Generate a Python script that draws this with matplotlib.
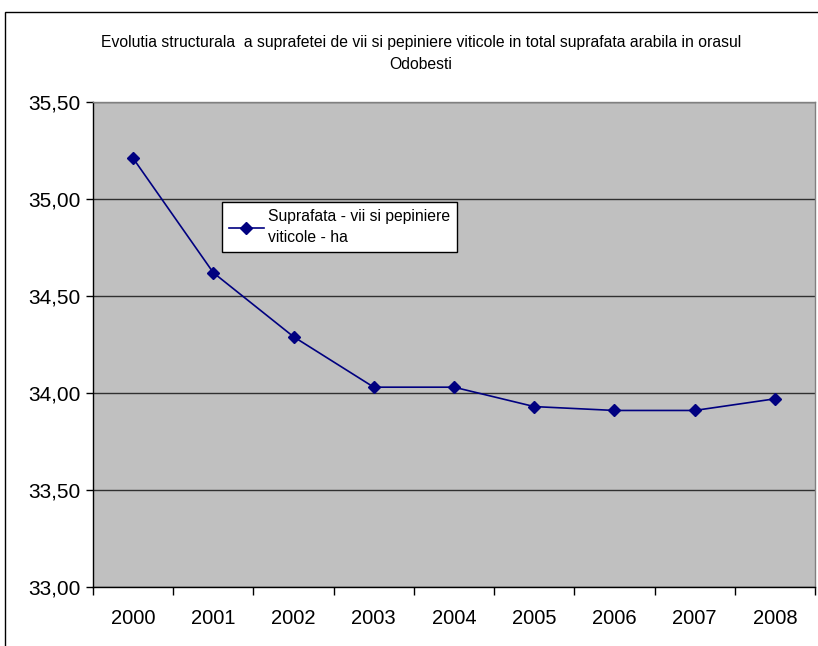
import matplotlib
matplotlib.use("Agg")
import matplotlib.pyplot as plt
from matplotlib.patches import Rectangle
from matplotlib.ticker import FixedLocator, FuncFormatter

years = ["2000", "2001", "2002", "2003", "2004", "2005", "2006", "2007", "2008"]
values = [35.21, 34.62, 34.29, 34.03, 34.03, 33.93, 33.91, 33.91, 33.97]
yticks = [33.0, 33.5, 34.0, 34.5, 35.0, 35.5]
title = "Evolutia structurala  a suprafetei de vii si pepiniere viticole in total suprafata arabila in orasul\nOdobesti"
series_label = "Suprafata - vii si pepiniere\nviticole - ha"

plt.rcParams['font.family'] = ['Liberation Sans', 'DejaVu Sans']

W, H = 818, 646
fig = plt.figure(figsize=(W / 100, H / 100), dpi=100)
fig.patch.set_facecolor("white")

# outer chart frame
fig.patches.append(Rectangle((5 / W, 1 - 1000 / H), 1000 / W, (1000 - 12) / H,
                             transform=fig.transFigure, fill=False,
                             edgecolor="black", linewidth=1.0, clip_on=False))

left, right, top, bottom = 93, 815, 102, 587
ax = fig.add_axes([left / W, 1 - bottom / H, (right - left) / W, (bottom - top) / H])
ax.set_facecolor("#C0C0C0")

x = list(range(len(years)))
ax.plot(x, values, color="#000080", linewidth=1.2, marker="D", markersize=6,
        label=series_label)

ax.set_xlim(-0.5, len(years) - 0.5)
ax.set_ylim(33.0, 35.5)
ax.yaxis.set_major_locator(FixedLocator(yticks))
ax.yaxis.set_major_formatter(FuncFormatter(lambda v, p: f"{v:.2f}".replace(".", ",")))
ax.set_xticks(x)
ax.set_xticklabels(years)
ax.xaxis.set_minor_locator(FixedLocator([i - 0.5 for i in range(len(years) + 1)]))
ax.tick_params(axis="x", which="major", length=0, pad=16, labelsize=14.5)
ax.tick_params(axis="x", which="minor", length=6, width=1, color="black", direction="out")
ax.tick_params(axis="y", which="major", length=5, width=1, direction="out", pad=4, labelsize=15)

ax.grid(axis="y", color="#303030", linewidth=1.0)
ax.set_axisbelow(True)
for s in ["top", "right"]:
    ax.spines[s].set_color("#808080")
    ax.spines[s].set_linewidth(1.0)
for s in ["left", "bottom"]:
    ax.spines[s].set_color("black")
    ax.spines[s].set_linewidth(1.0)

fig.text(421 / W, 1 - 53.5 / H, title, ha="center", va="center", fontsize=11.3,
         linespacing=1.6)

leg = ax.legend(loc="upper left", bbox_to_anchor=((222 - left) / (right - left), 1 - (202 - top) / (bottom - top)),
                fontsize=11.3, frameon=True, fancybox=False, edgecolor="black",
                framealpha=1, borderpad=0.45, handlelength=2.2, handletextpad=0.3,
                borderaxespad=0)
leg.get_frame().set_linewidth(1.0)
for t in leg.get_texts():
    t.set_linespacing(1.5)

fig.savefig("out.png", dpi=100)
